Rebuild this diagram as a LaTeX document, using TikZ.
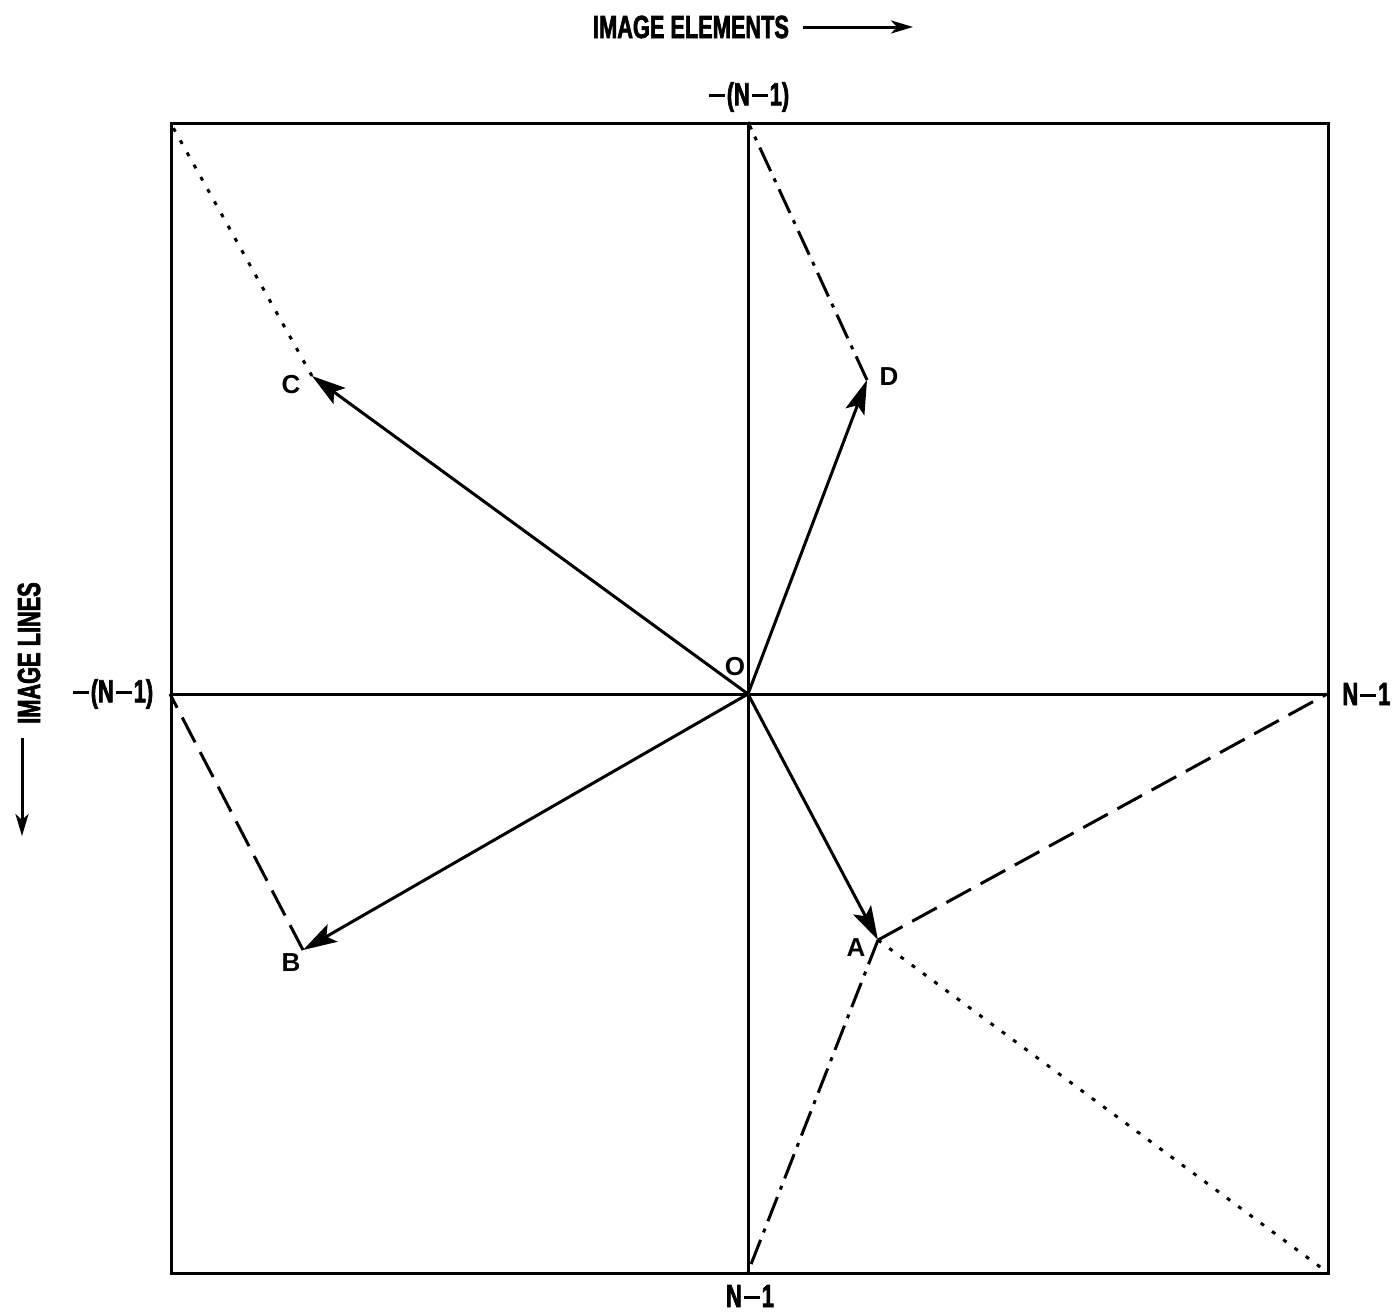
\documentclass[tikz,border=0pt]{standalone}
\usepackage{fontspec}
\setmainfont{Liberation Sans}
\newfontfamily\condfont[FakeStretch=0.68,FakeBold=2]{Liberation Sans Bold}
\usetikzlibrary{arrows.meta}
\newcommand{\lbar}{\kern2pt\rule[8.5pt]{16pt}{3pt}\kern2pt}
\begin{document}
\begin{tikzpicture}[x=1pt,y=-1pt,line width=3pt,
  vec/.style={-{Stealth[length=34pt,width=20pt,inset=7pt]}},
  longdash/.style={dash pattern=on 28pt off 11pt},
  dashdot/.style={dash pattern=on 26pt off 8pt on 4pt off 8pt},
  dots/.style={dash pattern=on 4pt off 10pt},
  axlbl/.style={font=\condfont\fontsize{32}{34}\selectfont, inner sep=0pt},
  ptlbl/.style={font=\bfseries\fontsize{26}{28}\selectfont, inner sep=0pt}]
\useasboundingbox (0,0) rectangle (1392,1312);
\fill[white] (0,0) rectangle (1392,1312);
% frame and axes
\node[draw, line width=3pt, minimum width=1157pt, minimum height=1150pt, inner sep=0pt, anchor=north west] (frame) at (170,122) {};
\coordinate (O) at (748,694);
\coordinate (T) at (748,122);
\coordinate (Bt) at (748,1272);
\coordinate (L) at (170,694);
\coordinate (R) at (1327,694);
\coordinate (TL) at (170,122);
\coordinate (BR) at (1327,1272);
\draw (T) -- (Bt);
\draw (L) -- (R);
% points
\coordinate (A) at (878,940);
\coordinate (B) at (303,950);
\coordinate (C) at (312,376);
\coordinate (D) at (867,380);
\draw[vec] (O) -- (A);
\draw[vec] (O) -- (B);
\draw[vec] (O) -- (C);
\draw[vec] (O) -- (D);
\draw[longdash] (A) -- (R);
\draw[dots] (A) -- (BR);
\draw[dashdot] (A) -- (Bt);
\draw[longdash] (B) -- (L);
\draw[dots] (C) -- (TL);
\draw[dashdot] (D) -- (T);
% labels
\node[ptlbl] (lO) at (735,667) {O};
\node[ptlbl] (lA) at (856,948) {A};
\node[ptlbl] (lB) at (291,963) {B};
\node[ptlbl] (lC) at (291,385) {C};
\node[ptlbl] (lD) at (889,377) {D};
\node[axlbl] (ltop) at (748,97) {\lbar(N\lbar1)};
\node[axlbl] (lbot) at (750,1296) {N\lbar1};
\node[axlbl] (lleft) at (112,694) {\lbar(N\lbar1)};
\node[axlbl, anchor=west] (lright) at (1341,694) {N\lbar1};
\node[axlbl] (elem) at (691,27) {IMAGE ELEMENTS};
\coordinate (e1) at (803,27);
\coordinate (e2) at (913,27);
\draw[-{Stealth[length=22pt,width=13pt,inset=6pt]}] (e1) -- (e2);
\node[axlbl, rotate=90] (lines) at (29,653) {IMAGE LINES};
\coordinate (l1) at (22,738);
\coordinate (l2) at (22,836);
\draw[-{Stealth[length=22pt,width=13pt,inset=6pt]}] (l1) -- (l2);
\end{tikzpicture}
\end{document}
